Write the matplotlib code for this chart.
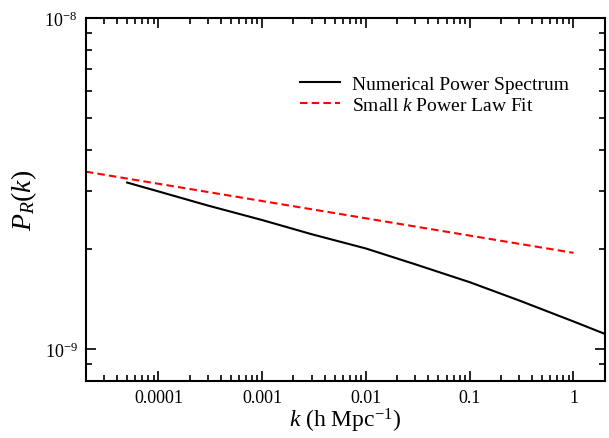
import matplotlib
matplotlib.use("Agg")
import matplotlib.pyplot as plt
from matplotlib.ticker import LogLocator, FixedLocator, FixedFormatter, NullFormatter

plt.rcParams['font.family'] = ['Liberation Serif', 'DejaVu Serif']
plt.rcParams['mathtext.fontset'] = 'custom'
plt.rcParams['mathtext.rm'] = 'Liberation Serif'
plt.rcParams['mathtext.it'] = 'Liberation Serif:italic'
plt.rcParams['mathtext.bf'] = 'Liberation Serif:bold'

# Numerical power spectrum
k_num = [5e-5, 1e-4, 3e-4, 1e-3, 3e-3, 1e-2, 3e-2, 1e-1, 3e-1, 1.0, 2.0]
p_num = [3.18e-9, 2.99e-9, 2.71e-9, 2.45e-9, 2.22e-9, 2.01e-9, 1.80e-9,
         1.59e-9, 1.40e-9, 1.21e-9, 1.11e-9]

# Small-k power law fit (straight line in log-log)
k_fit = [2e-5, 1.0]
p_fit = [3.43e-9, 1.95e-9]

x_ticks = [1e-4, 1e-3, 1e-2, 1e-1, 1.0]
x_labels = ["0.0001", "0.001", "0.01", "0.1", "1"]
y_ticks = [1e-9, 1e-8]
y_labels = [r"$10^{-9}$", r"$10^{-8}$"]

fig = plt.figure(figsize=(6.09, 4.39), dpi=100)
ax = fig.add_axes([0.141, 0.130, 0.852, 0.827])

ax.plot(k_num, p_num, color='black', lw=1.5, label='Numerical Power Spectrum')
ax.plot(k_fit, p_fit, color='red', lw=1.5, dashes=(3.6, 2.0),
        label=r'Small $k$ Power Law Fit')

ax.set_xscale('log')
ax.set_yscale('log')
ax.set_xlim(2e-5, 2.0)
ax.set_ylim(8e-10, 1e-8)

ax.xaxis.set_major_locator(FixedLocator(x_ticks))
ax.xaxis.set_major_formatter(FixedFormatter(x_labels))
ax.xaxis.set_minor_locator(LogLocator(base=10, subs=range(2, 10), numticks=20))
ax.xaxis.set_minor_formatter(NullFormatter())
ax.yaxis.set_major_locator(FixedLocator(y_ticks))
ax.yaxis.set_major_formatter(FixedFormatter(y_labels))
ax.yaxis.set_minor_locator(LogLocator(base=10, subs=range(2, 10), numticks=20))
ax.yaxis.set_minor_formatter(NullFormatter())

for s in ax.spines.values():
    s.set_linewidth(1.5)
ax.tick_params(which='both', direction='in', top=True, right=True, width=1.2)
ax.tick_params(which='major', length=7, labelsize=13, pad=6)
ax.tick_params(which='minor', length=4)

ax.set_xlabel(r'$k$ (h Mpc$^{-1}$)', fontsize=17, labelpad=0)
ax.set_ylabel(r'$P_R(k)$', fontsize=20, labelpad=4)

leg = ax.legend(loc='upper left', bbox_to_anchor=(0.412, 0.842), frameon=False,
                fontsize=14, handlelength=2.1, handletextpad=0.57,
                labelspacing=0.18, borderpad=0, borderaxespad=0)

fig.savefig('out.png', dpi=100)
